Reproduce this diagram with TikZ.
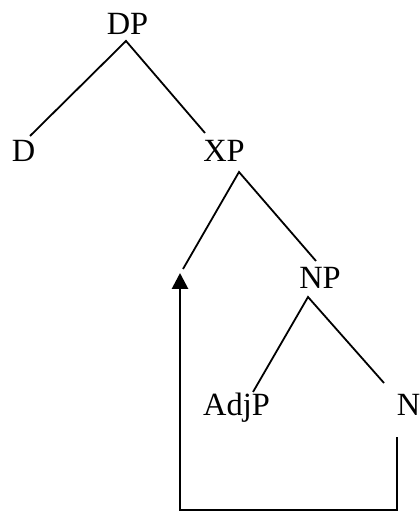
\documentclass[tikz,border=0pt]{standalone}
\usepackage{fontspec}
\setmainfont{Liberation Serif}
\usetikzlibrary{arrows.meta}
\begin{document}
\begin{tikzpicture}[x=0.5pt,y=-0.5pt,
  lbl/.style={inner sep=0pt,anchor=base,font=\fontsize{16.2pt}{18pt}\selectfont},
  branch/.style={line width=0.9pt},
  move/.style={line width=1.4pt,line join=miter,-{Triangle[length=8pt,width=8pt]}}]
\useasboundingbox (0,0) rectangle (419,512);
% labels
\node[lbl] (DP) at (127.5,35) {DP};
\node[lbl] (D) at (23.5,162) {D};
\node[lbl] (XP) at (224,162) {XP};
\node[lbl] (NP) at (320,288) {NP};
\node[lbl] (AdjP) at (236.5,415) {AdjP};
\node[lbl] (N) at (408.5,415) {N};
% branch end points
\coordinate (DPb) at (126,41);
\coordinate (Dt) at (30,136);
\coordinate (XPt) at (205,133);
\coordinate (XPb) at (239,172);
\coordinate (gap) at (183,269);
\coordinate (NPt) at (316,261);
\coordinate (NPb) at (308,297);
\coordinate (AdjPt) at (253,392);
\coordinate (Nt) at (384,383);
\coordinate (Nb) at (397,437);
\coordinate (c1) at (397,510);
\coordinate (c2) at (180,510);
\coordinate (tip) at (180,273);
% branches
\draw[branch] (Dt) -- (DPb) -- (XPt);
\draw[branch] (gap) -- (XPb) -- (NPt);
\draw[branch] (AdjPt) -- (NPb) -- (Nt);
% movement arrow
\draw[move] (Nb) -- (c1) -- (c2) -- (tip);
\end{tikzpicture}
\end{document}
